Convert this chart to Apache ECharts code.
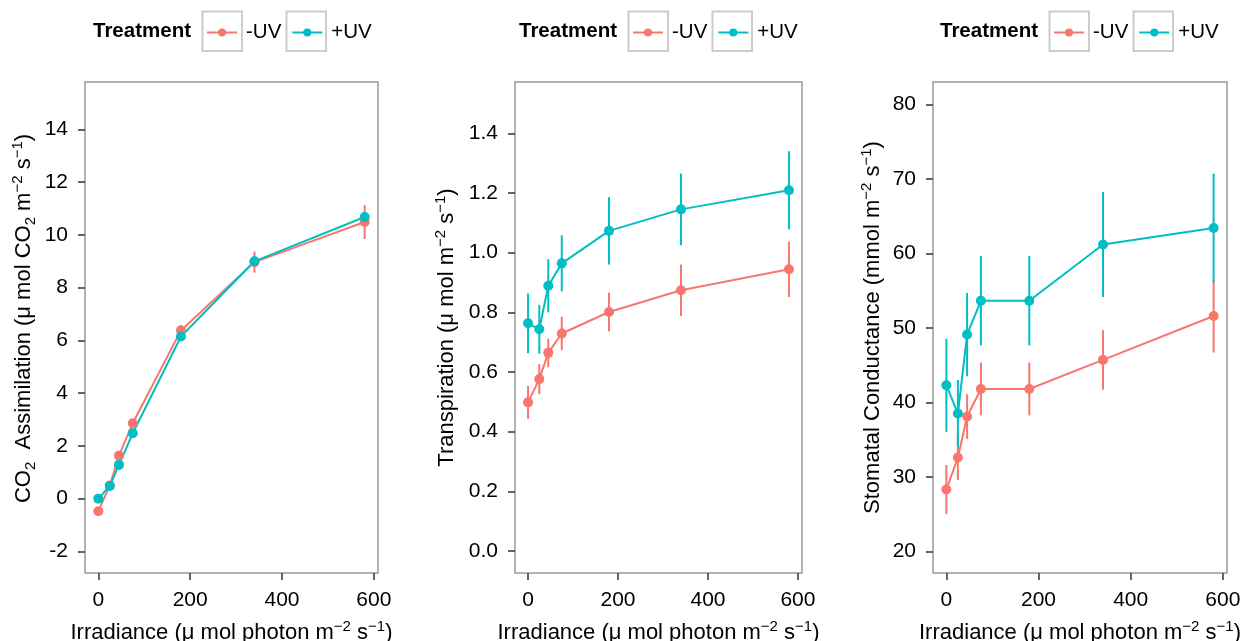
<!DOCTYPE html>
<html>
<head>
<meta charset="utf-8">
<script src="https://cdn.jsdelivr.net/npm/echarts@6/dist/echarts.min.js"></script>
<style>
html,body{margin:0;padding:0;background:#fff;}
#chart{width:1244px;height:641px;}
</style>
</head>
<body>
<div id="chart"></div>
<script>
// ---------- data ----------
const irradiance = [0, 25, 45, 75, 180, 340, 580];
const treatments = ['-UV', '+UV'];

const assimMinusUV   = [-0.48, 0.50, 1.63, 2.86, 6.38, 8.97, 10.49];
const assimMinusUVse = [0.10, 0.10, 0.12, 0.15, 0.20, 0.40, 0.64];
const assimPlusUV    = [0.00, 0.48, 1.28, 2.48, 6.15, 9.00, 10.68];
const assimPlusUVse  = [0.08, 0.08, 0.10, 0.12, 0.15, 0.18, 0.20];

const transMinusUV   = [0.498, 0.576, 0.664, 0.729, 0.801, 0.874, 0.944];
const transMinusUVse = [0.055, 0.050, 0.048, 0.056, 0.065, 0.086, 0.093];
const transPlusUV    = [0.763, 0.743, 0.889, 0.964, 1.073, 1.145, 1.209];
const transPlusUVse  = [0.100, 0.082, 0.089, 0.094, 0.113, 0.120, 0.131];

const condMinusUV    = [28.3, 32.6, 38.1, 41.8, 41.8, 45.7, 51.6];
const condMinusUVse  = [3.3, 3.0, 3.0, 3.55, 3.55, 4.0, 4.9];
const condPlusUV     = [42.3, 38.5, 49.1, 53.65, 53.65, 61.2, 63.4];
const condPlusUVse   = [6.25, 4.5, 5.6, 6.0, 6.0, 7.05, 7.3];

const xTicks = [0, 200, 400, 600];
const yTicksAssim = [-2, 0, 2, 4, 6, 8, 10, 12, 14];
const yTicksTrans = [0.0, 0.2, 0.4, 0.6, 0.8, 1.0, 1.2, 1.4];
const yTicksCond  = [20, 30, 40, 50, 60, 70, 80];

// ---------- styling / layout ----------
const RED = '#F8766D', CYAN = '#00BFC4';
const FONT = "'Liberation Sans', Arial, sans-serif";
const FS_TICK = 21;
const FS_NAME = 22;
const rich = {
  sup: {fontSize: 15, verticalAlign: 'top', lineHeight: 15, fontFamily: FONT, color: '#000'},
  sub: {fontSize: 15, verticalAlign: 'bottom', lineHeight: 15, fontFamily: FONT, color: '#000'}
};
const xName = 'Irradiance (μ mol photon m{sup|−2} s{sup|−1})';
const panels = [
  {left: 85, width: 293, ymin: -2.82, ymax: 15.8, ticks: yTicksAssim, dec: 0, nameGap: 47, namePad: [0, 0, 0, 18],
   name: 'CO{sub|2}  Assimilation (μ mol CO{sub|2} m{sup|−2} s{sup|−1})',
   minus: assimMinusUV, minusSe: assimMinusUVse, plus: assimPlusUV, plusSe: assimPlusUVse, off: 0},
  {left: 515, width: 287, ymin: -0.074, ymax: 1.572, ticks: yTicksTrans, dec: 1, nameGap: 54, namePad: 0,
   name: 'Transpiration (μ mol m{sup|−2} s{sup|−1})',
   minus: transMinusUV, minusSe: transMinusUVse, plus: transPlusUV, plusSe: transPlusUVse, off: 426},
  {left: 933, width: 294, ymin: 17.1, ymax: 83.0, ticks: yTicksCond, dec: 0, nameGap: 46, namePad: 0,
   name: 'Stomatal Conductance (mmol m{sup|−2} s{sup|−1})',
   minus: condMinusUV, minusSe: condMinusUVse, plus: condPlusUV, plusSe: condPlusUVse, off: 847}
];

function errRender(params, api) {
  const x = api.value(0), lo = api.value(1), hi = api.value(2);
  const p1 = api.coord([x, lo]), p2 = api.coord([x, hi]);
  return {type: 'line', shape: {x1: p1[0], y1: p1[1], x2: p2[0], y2: p2[1]},
          style: {stroke: api.visual('color'), lineWidth: 2}};
}

const grid = [], xAxis = [], yAxis = [], series = [], legend = [], title = [], graphic = [];
panels.forEach((p, i) => {
  grid.push({left: p.left, width: p.width, top: 82, height: 491, show: true,
             borderColor: '#9a9a9a', borderWidth: 1.5, backgroundColor: '#fff',
             containLabel: false, outerBoundsMode: 'none'});
  xAxis.push({type: 'value', gridIndex: i, min: -29, max: 609, position: 'bottom',
    name: xName, nameLocation: 'middle', nameGap: 46,
    nameTextStyle: {fontSize: FS_NAME, fontFamily: FONT, color: '#000', lineHeight: 28, rich: rich},
    splitLine: {show: false}, axisLine: {show: false, onZero: false},
    axisTick: {show: true, inside: false, length: 7, customValues: xTicks, lineStyle: {color: '#333', width: 1.5}},
    axisLabel: {customValues: xTicks, fontSize: FS_TICK, fontFamily: FONT, color: '#000', margin: 17}
  });
  yAxis.push({type: 'value', gridIndex: i, min: p.ymin, max: p.ymax, position: 'left',
    name: p.name, nameLocation: 'middle', nameGap: p.nameGap, nameRotate: 90,
    nameTextStyle: {fontSize: FS_NAME, fontFamily: FONT, color: '#000', lineHeight: 28, rich: rich, padding: p.namePad},
    splitLine: {show: false}, axisLine: {show: false, onZero: false},
    axisTick: {show: true, inside: false, length: 7, customValues: p.ticks, lineStyle: {color: '#333', width: 1.5}},
    axisLabel: {customValues: p.ticks, fontSize: FS_TICK, fontFamily: FONT, color: '#000', margin: 17,
      formatter: v => v.toFixed(p.dec)}
  });
  const errM = irradiance.map((x, k) => [x, p.minus[k] - p.minusSe[k], p.minus[k] + p.minusSe[k]]);
  const errP = irradiance.map((x, k) => [x, p.plus[k] - p.plusSe[k], p.plus[k] + p.plusSe[k]]);
  series.push({type: 'custom', name: 'err-UV' + i, xAxisIndex: i, yAxisIndex: i, renderItem: errRender,
    encode: {x: 0, y: [1, 2]}, data: errM, itemStyle: {color: RED}, z: 2});
  series.push({type: 'custom', name: 'err+UV' + i, xAxisIndex: i, yAxisIndex: i, renderItem: errRender,
    encode: {x: 0, y: [1, 2]}, data: errP, itemStyle: {color: CYAN}, z: 2});
  series.push({type: 'line', name: '-UV', xAxisIndex: i, yAxisIndex: i,
    data: irradiance.map((x, k) => [x, p.minus[k]]), symbol: 'circle', symbolSize: 10,
    itemStyle: {color: RED}, lineStyle: {color: RED, width: 2}, z: 3});
  series.push({type: 'line', name: '+UV', xAxisIndex: i, yAxisIndex: i,
    data: irradiance.map((x, k) => [x, p.plus[k]]), symbol: 'circle', symbolSize: 10,
    itemStyle: {color: CYAN}, lineStyle: {color: CYAN, width: 2}, z: 3});

  title.push({text: 'Treatment', left: 93 + p.off, top: 21, padding: 0,
    textStyle: {fontSize: 20.5, fontWeight: 'bold', fontFamily: FONT, color: '#000'}});
  legend.push({data: treatments, left: 206 + p.off, top: 22, padding: 0, orient: 'horizontal',
    itemWidth: 30, itemHeight: 10, itemGap: 10, selectedMode: false,
    textStyle: {fontSize: 20.5, fontFamily: FONT, color: '#000', padding: [0, 0, 0, 4]}});
  graphic.push({type: 'rect', left: 201.5 + p.off, top: 10.5, shape: {width: 39.5, height: 39.5},
    style: {fill: '#fff', stroke: '#cccccc', lineWidth: 2}, z: 0});
  graphic.push({type: 'rect', left: 285.5 + p.off, top: 10.5, shape: {width: 39.5, height: 39.5},
    style: {fill: '#fff', stroke: '#cccccc', lineWidth: 2}, z: 0});
});

const chart = echarts.init(document.getElementById('chart'), null, {renderer: 'canvas'});
chart.setOption({
  animation: false,
  backgroundColor: '#fff',
  textStyle: {fontFamily: FONT},
  title, legend, grid, xAxis, yAxis, series, graphic
});
</script>
</body>
</html>
